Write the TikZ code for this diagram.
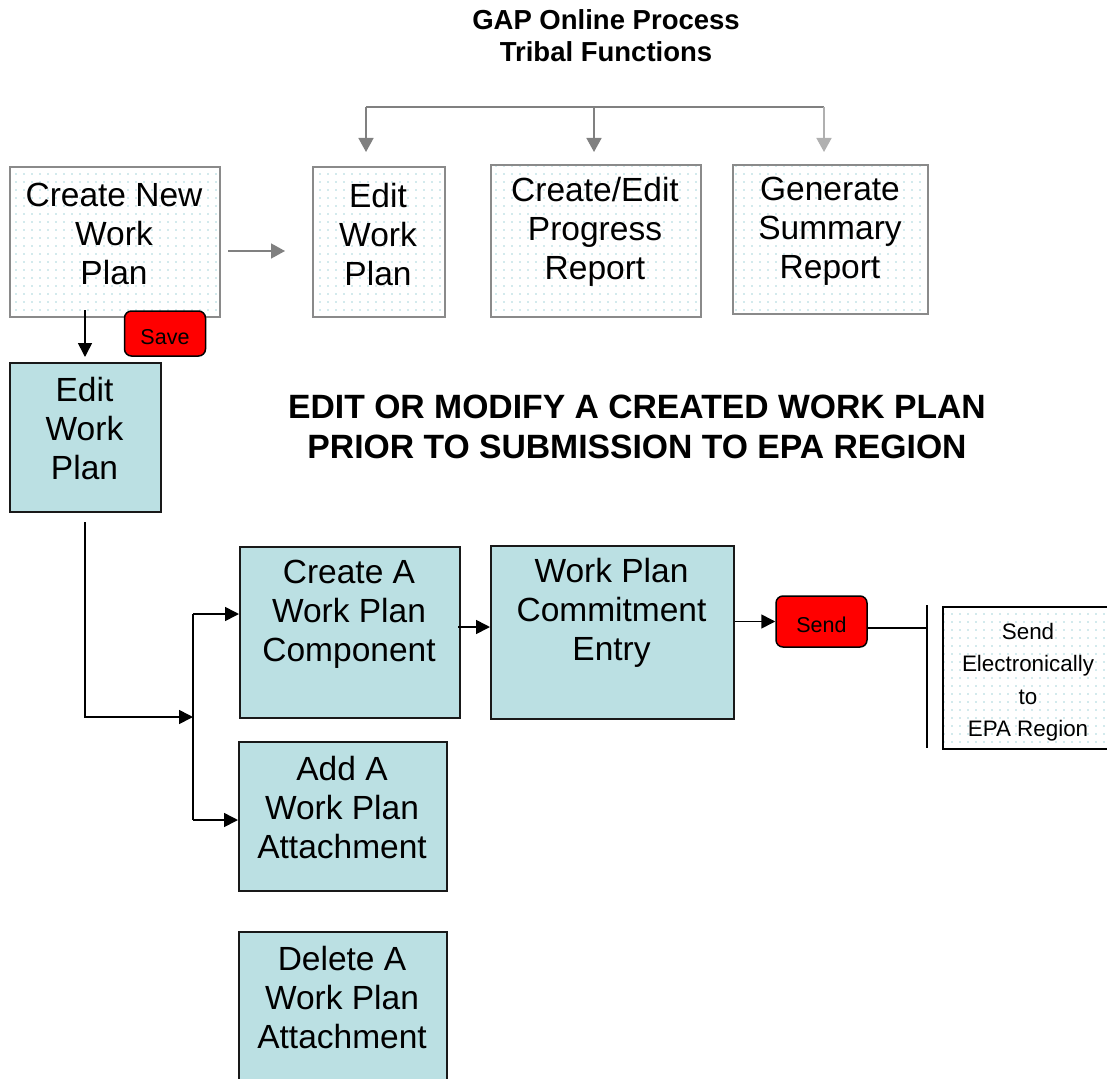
\documentclass[tikz,border=0pt]{standalone}
\usepackage{fontspec}
\setmainfont{Liberation Sans}
\usetikzlibrary{arrows.meta,patterns.meta,calc}
\definecolor{tealfill}{HTML}{BBE0E3}
\definecolor{bgray}{HTML}{8A8A8A}
\definecolor{agray}{HTML}{808080}
\definecolor{lgray}{HTML}{B0B0B0}
\definecolor{dotc}{HTML}{A6D5DA}
\definecolor{btnred}{HTML}{FF0000}
\begin{document}
\begin{tikzpicture}[x=1pt,y=-1pt,
  dotbox/.style={draw=bgray, line width=1.6pt, pattern={Dots[distance=8pt,radius=0.8pt]}, pattern color=dotc, anchor=north west, inner sep=0pt},
  dotboxk/.style={dotbox, draw=black},
  tealbox/.style={draw=black!90, line width=1.8pt, fill=tealfill, anchor=north west, inner sep=0pt},
  btn/.style={draw=black, line width=1.5pt, fill=btnred, rounded corners=7pt, inner sep=0pt, font=\fontsize{21.5}{25}\selectfont, text height=21pt, text depth=0pt},
  big/.style={align=center, font=\fontsize{33.5}{39}\selectfont, inner sep=0pt},
  small/.style={align=center, font=\fontsize{22.4}{32.5}\selectfont, inner sep=0pt},
  blk/.style={draw=black, line width=1.6pt},
  blka/.style={blk, -{Triangle[length=14pt,width=14pt]}},
  gry/.style={draw=agray, line width=1.6pt},
  grya/.style={gry, -{Triangle[length=14pt,width=15pt]}},
]
\path[use as bounding box] (0,0) rectangle (1107,1078);
\clip (0,0) rectangle (1107,1078);

% titles
\node[align=center, inner sep=0pt, font=\bfseries\fontsize{27.5}{32}\selectfont] (title) at (606,36) {GAP Online Process\\Tribal Functions};
\node[align=center, inner sep=0pt, font=\bfseries\fontsize{33.7}{40}\selectfont] (head) at (637,427) {EDIT OR MODIFY A CREATED WORK PLAN\\PRIOR TO SUBMISSION TO EPA REGION};

% top row boxes
\node[dotbox, minimum width=210pt, minimum height=150pt] (cnwp) at (9,166) {};
\node[big] (cnwpT) at (114,234) {Create New\\Work\\Plan};
\node[dotbox, minimum width=132pt, minimum height=150pt] (tedit) at (312,166) {};
\node[big] (teditT) at (378,235) {Edit\\Work\\Plan};
\node[dotbox, minimum width=210pt, minimum height=152pt] (prog) at (490,164) {};
\node[big] (progT) at (595,232) {Create/Edit\\Progress\\Report};
\node[dotbox, minimum width=195pt, minimum height=149pt] (summ) at (732,164) {};
\node[big] (summT) at (830,231) {Generate\\Summary\\Report};

% save button
\node[btn, minimum width=81pt, minimum height=45pt] (save) at (165,333.5) {Save};

% teal boxes
\node[tealbox, minimum width=151pt, minimum height=149pt] (editT) at (9,362) {};
\node[big] (editTT) at (84.5,429) {Edit\\Work\\Plan};
\node[tealbox, minimum width=220pt, minimum height=171pt] (compA) at (239,546) {};
\node[big] (compAT) at (349,614) {Create A\\Work Plan\\Component};
\node[tealbox, minimum width=243pt, minimum height=173pt] (commit) at (490,545) {};
\node[big] (commitT) at (611.5,613) {Work Plan\\Commitment\\Entry};
\node[tealbox, minimum width=208pt, minimum height=149pt] (add) at (238,741) {};
\node[big] (addT) at (342,808) {Add A\\Work Plan\\Attachment};
\node[tealbox, minimum width=208pt, minimum height=170pt] (del) at (238,931) {};
\node[big] (delT) at (342,998) {Delete A\\Work Plan\\Attachment};

% send button and destination
\node[btn, minimum width=91pt, minimum height=51pt] (send) at (821.5,621.5) {Send};
\node[dotboxk, minimum width=172pt, minimum height=142pt] (sendel) at (942,606) {};
\node[small] (sendelT) at (1028,682) {Send\\Electronically\\to\\EPA Region};

% gray connectors on top
\coordinate (g1) at (366,107);
\coordinate (g2) at (594,107);
\coordinate (g3) at (824,107);
\coordinate (t1) at (366,152);
\coordinate (t2) at (594,152);
\coordinate (t3) at (824,152);
\draw[gry] (g1) -- (g3);
\draw[grya] (g1) -- (t1);
\draw[grya] (g2) -- (t2);
\draw[grya, draw=lgray] (g3) -- (t3);
\coordinate (s0) at (228,251);
\coordinate (s1) at (285,251);
\draw[grya] (s0) -- (s1);

% black connectors
\coordinate (d0) at (85,310);
\coordinate (d1) at (85,357);
\draw[blka] (d0) -- (d1);
\coordinate (e0) at (85,522);
\coordinate (jm) at (193,717);
\coordinate (j1) at (193,614);
\coordinate (j2) at (193,820);
\draw[blka] (e0) |- (jm);
\draw[blk] (j1) -- (j2);
\draw[blka] (j1) -- (compA.west |- j1);
\draw[blka] (j2) -- (add.west |- j2);
\coordinate (c0) at (458,627);
\draw[blka] (c0) -- (commit.west |- c0);
\draw[blka] (commit.east |- send.west) -- (send.west);
\coordinate (vb0) at (927,605);
\coordinate (vb1) at (927,748);
\coordinate (sy) at (0,628);
\draw[blk] (send.east |- sy) -- (vb0 |- sy);
\draw[blk] (vb0) -- (vb1);
\end{tikzpicture}
\end{document}
